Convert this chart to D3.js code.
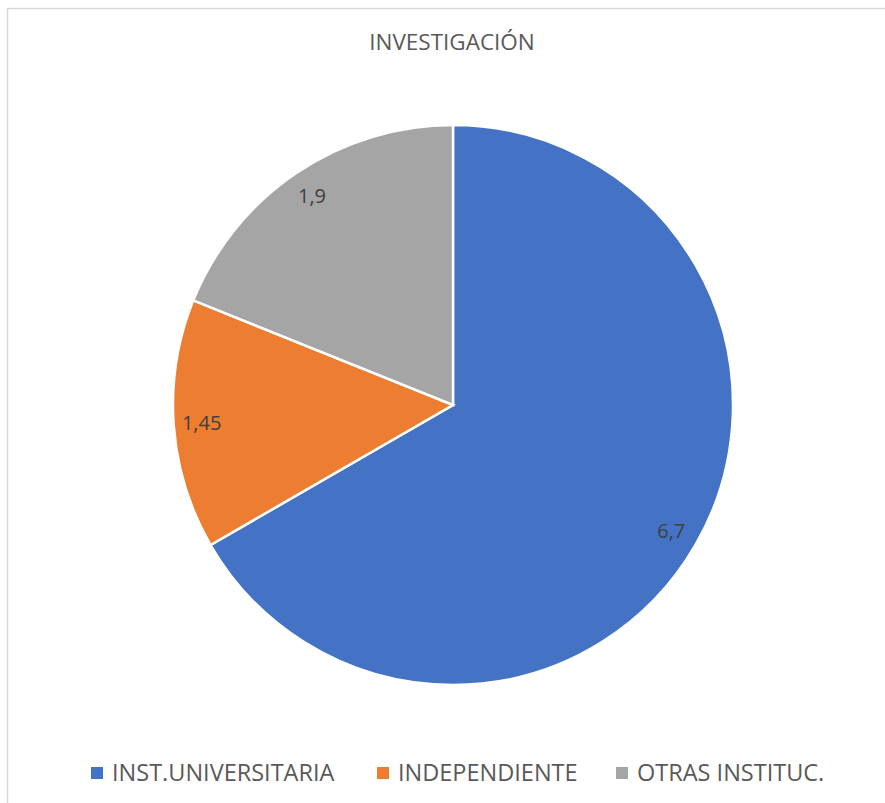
<!DOCTYPE html>
<html><head><meta charset="utf-8">
<script src="https://cdn.jsdelivr.net/npm/d3@7"></script>
<style>body{margin:0;background:#fff}svg{display:block}</style>
</head><body>
<svg id="c" width="885" height="803"></svg>
<script>
const categories = ["INST.UNIVERSITARIA", "INDEPENDIENTE", "OTRAS INSTITUC."];
const values = [6.7, 1.45, 1.9];
const labels = ["6,7", "1,45", "1,9"];
const colors = ["#4472C4", "#ED7D31", "#A5A5A5"];
const title = "INVESTIGACIÓN";

const svg = d3.select("#c");
const font = "'Open Sans', 'Segoe UI', sans-serif";

svg.append("path").attr("d", "M7.5,803 V8.5 H885").attr("fill", "none").attr("stroke", "#d9d9d9").attr("stroke-width", 1.5);

svg.append("text").attr("x", 452).attr("y", 50).attr("text-anchor", "middle")
  .attr("font-family", font).attr("font-size", 22.5).attr("fill", "#595959").text(title);

const cx = 453, cy = 405, r = 280;
const pie = d3.pie().sort(null).value(d => d)(values);
const arc = d3.arc().innerRadius(0).outerRadius(r);
const g = svg.append("g").attr("transform", `translate(${cx},${cy})`);
g.selectAll("path.s").data(pie).join("path").attr("class", "s")
  .attr("d", arc).attr("fill", (d, i) => colors[i]).attr("stroke", "#fff").attr("stroke-width", 2.5);
const larc = d3.arc().innerRadius(r * 0.9).outerRadius(r * 0.9);
g.selectAll("text.l").data(pie).join("text").attr("class", "l")
  .attr("transform", d => `translate(${larc.centroid(d)})`)
  .attr("text-anchor", "middle").attr("dy", "0.35em")
  .attr("font-family", font).attr("font-size", 20).attr("fill", "#404040")
  .text((d, i) => labels[i]);

const legX = [91, 377, 616];
const lg = svg.append("g");
categories.forEach((c, i) => {
  lg.append("rect").attr("x", legX[i]).attr("y", 767).attr("width", 12).attr("height", 12).attr("fill", colors[i]);
  lg.append("text").attr("x", legX[i] + 21).attr("y", 781).attr("font-family", font)
    .attr("font-size", 23.5).attr("fill", "#595959").text(c);
});
</script>
</body></html>
